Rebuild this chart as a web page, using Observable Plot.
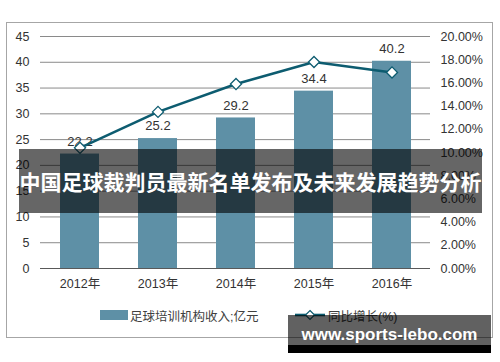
<!DOCTYPE html>
<html><head><meta charset="utf-8">
<script src="https://cdn.jsdelivr.net/npm/d3@7"></script>
<script src="https://cdn.jsdelivr.net/npm/@observablehq/plot@0.6"></script>
<style>
html,body{margin:0;padding:0;background:#fff;}
#wrap{position:relative;width:500px;height:362px;overflow:hidden;font-family:"Liberation Sans","Noto Sans CJK SC",sans-serif;}
#frame{position:absolute;left:6px;top:22px;width:487px;height:316px;border:1.5px solid #a6a6a6;box-sizing:border-box;}
.leg{position:absolute;font-size:12.5px;color:#404040;white-space:nowrap;font-family:"Liberation Sans","Noto Sans CJK SC",sans-serif;}
#banner{position:absolute;left:19px;top:149px;width:463px;height:64px;background:rgba(0,0,0,0.6);color:#fff;font:bold 21px "Noto Sans CJK SC",sans-serif;display:flex;align-items:center;justify-content:center;white-space:nowrap;}
#wm{position:absolute;left:288px;top:315px;width:203px;height:38px;background:rgba(0,0,0,0.62);}
#wm2{position:absolute;left:288px;top:345px;width:203px;height:8px;background:#000;}
#wmt{position:absolute;left:288px;top:325px;width:203px;height:22px;line-height:22px;color:#fff;font:bold 17px "Liberation Sans",sans-serif;text-align:center;white-space:nowrap;}
</style></head>
<body><div id="wrap"><div id="frame"></div><div id="chart" style="position:absolute;left:0;top:0"></div></div>
<script>
const years = ["2012","2013","2014","2015","2016"];
const revenue = [22.2, 25.2, 29.2, 34.4, 40.2];
const growth = [10.4, 13.5, 15.9, 17.8, 16.9];
const leftTicks = [0,5,10,15,20,25,30,35,40,45];
const rightTicks = [0,2,4,6,8,10,12,14,16,18,20];
const seriesNames = ["足球培训机构收入;亿元", "同比增长(%)"];
const title = "中国足球裁判员最新名单发布及未来发展趋势分析";
const watermark = "www.sports-lebo.com";

const k = 45/20;
const data = years.map((y,i)=>({year:y, value:revenue[i], growth:growth[i]}));
const barColor = "#5e90a6", lineColor = "#0d5c70";

const chart = Plot.plot({
  width:500, height:362,
  marginLeft:40, marginRight:70, marginTop:36, marginBottom:94,
  style:{fontFamily:'"Liberation Sans","Noto Sans CJK SC",sans-serif', fontSize:"12.5px", color:"#333", background:"transparent"},
  x:{domain:years, paddingInner:0.5, paddingOuter:0.25, axis:null},
  y:{domain:[0,45], axis:null},
  marks:[
    Plot.ruleY(leftTicks.filter(t=>t>0), {stroke:"#8a8a8a", strokeWidth:1, strokeOpacity:1}),
    Plot.barY(data, {x:"year", y:"value", fill:barColor}),
    Plot.ruleY([0], {stroke:"#595959", strokeWidth:1.2}),
    Plot.axisX({label:null, tickSize:0, tickPadding:11, tickFormat:d=>d+"年", fontSize:"12.5px"}),
    Plot.axisY(leftTicks, {label:null, anchor:"left", tickSize:0, tickPadding:11, fontSize:"12.5px"}),
    Plot.axisY(rightTicks.map(t=>t*k), {label:null, anchor:"right", tickSize:0, tickPadding:10, tickFormat:d=>(d/k).toFixed(2)+"%", fontSize:"12.5px"}),
    Plot.text(data, {x:"year", y:"value", text:d=>d.value.toFixed(1), dy:-12.5, fill:"#333", fontSize:"13px"}),
    Plot.lineY(data, {x:"year", y:d=>d.growth*k, stroke:lineColor, strokeWidth:2.6}),
    Plot.dot(data, {x:"year", y:d=>d.growth*k, symbol:"diamond2", r:5, fill:"white", stroke:lineColor, strokeWidth:1.3})
  ]
});
document.getElementById("chart").appendChild(chart);

const wrap = document.getElementById("wrap");
function add(html){ const d=document.createElement("div"); d.innerHTML=html; while(d.firstChild) wrap.appendChild(d.firstChild); }
add(`<div style="position:absolute;left:100px;top:310px;width:28px;height:10px;background:${barColor}"></div>`);
add(`<div class="leg" style="left:130px;top:306px">${seriesNames[0]}</div>`);
add(`<svg style="position:absolute;left:293px;top:307px" width="34" height="16"><line x1="2" y1="8" x2="32" y2="8" stroke="${lineColor}" stroke-width="2.6"/><path d="M17 3.5 L21.5 8 L17 12.5 L12.5 8 Z" fill="white" stroke="${lineColor}" stroke-width="1.2"/></svg>`);
add(`<div class="leg" style="left:328px;top:306px">${seriesNames[1]}</div>`);
add(`<div id="banner">${title}</div>`);
add(`<div id="wm"></div><div id="wm2"></div><div id="wmt">${watermark}</div>`);
</script></body></html>
